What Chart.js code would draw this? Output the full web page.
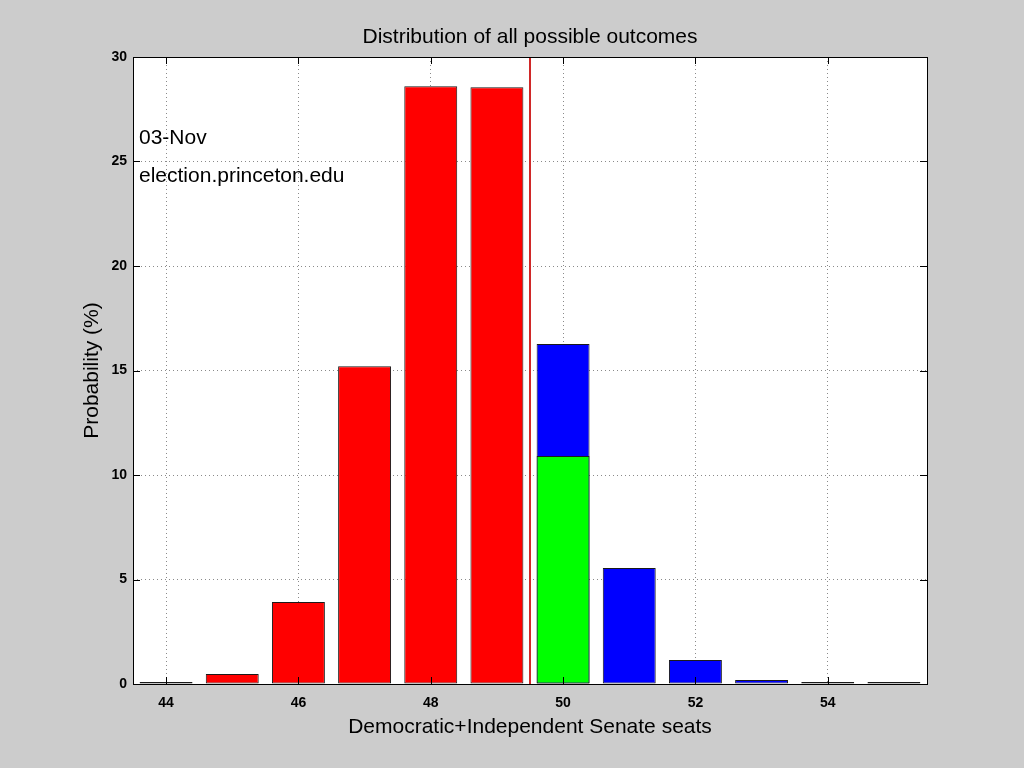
<!DOCTYPE html>
<html>
<head>
<meta charset="utf-8">
<script src="https://cdn.jsdelivr.net/npm/chart.js@4/dist/chart.umd.min.js"></script>
<style>
  html, body { margin: 0; padding: 0; background: #cccccc; }
  canvas { display: block; }
</style>
</head>
<body>
<canvas id="c" width="1024" height="768"></canvas>
<script>
// ---- data ----
const seats = [44, 45, 46, 47, 48, 49, 50, 51, 52, 53, 54, 55];
const probability = [0.05, 0.48, 3.92, 15.2, 28.6, 28.55, 16.27, 5.55, 1.15, 0.19, 0.03, 0.02];
const greenSeats = [50];
const greenProbability = [10.91];
const cutoffSeat = 49.5;
const xTickValues = [44, 46, 48, 50, 52, 54];
const yTickValues = [0, 5, 10, 15, 20, 25, 30];
const chartTitle = 'Distribution of all possible outcomes';
const dateLabel = '03-Nov';
const siteLabel = 'election.princeton.edu';

const RED = '#ff0000', BLUE = '#0000ff', GREEN = '#00ff00';
const FONT = '"Liberation Sans", Arial, Helvetica, sans-serif';

const frame = {
  id: 'frame',
  beforeDraw(chart) {
    const {ctx, chartArea: a} = chart;
    ctx.save();
    ctx.fillStyle = '#ffffff';
    ctx.fillRect(a.left, a.top, a.right - a.left, a.bottom - a.top);
    ctx.restore();
  },
  afterDatasetsDraw(chart) {
    const {ctx, chartArea: a, scales: {x, y}} = chart;
    ctx.save();
    ctx.strokeStyle = '#000000';
    ctx.lineWidth = 1;
    ctx.strokeRect(Math.round(a.left) + 0.5, Math.round(a.top) + 0.5,
                   Math.round(a.right - a.left), Math.round(a.bottom - a.top));
    const tl = 7;
    ctx.beginPath();
    xTickValues.forEach(v => {
      const px = Math.round(x.getPixelForValue(v)) + 0.5;
      ctx.moveTo(px, a.bottom); ctx.lineTo(px, a.bottom - tl);
      ctx.moveTo(px, a.top); ctx.lineTo(px, a.top + tl);
    });
    yTickValues.forEach(v => {
      const py = Math.round(y.getPixelForValue(v)) + 0.5;
      ctx.moveTo(a.left, py); ctx.lineTo(a.left + tl, py);
      ctx.moveTo(a.right, py); ctx.lineTo(a.right - tl, py);
    });
    ctx.stroke();
    ctx.fillStyle = '#000000';
    ctx.font = '21px ' + FONT;
    ctx.textBaseline = 'middle';
    ctx.textAlign = 'center';
    ctx.fillText(chartTitle, (a.left + a.right) / 2, 37);
    ctx.textAlign = 'left';
    ctx.fillText(dateLabel, a.left + 6, 138);
    ctx.fillText(siteLabel, a.left + 6, 176);
    ctx.restore();
  }
};

const barStyle = {
  borderColor: '#1a1a1a',
  borderWidth: 1,
  borderSkipped: false,
  grouped: false,
  barPercentage: 1,
  categoryPercentage: 0.8,
  minBarLength: 2
};

new Chart(document.getElementById('c'), {
  data: {
    datasets: [
      Object.assign({
        type: 'bar',
        data: greenSeats.map((s, i) => ({x: s, y: greenProbability[i]})),
        backgroundColor: GREEN
      }, barStyle),
      Object.assign({
        type: 'bar',
        data: seats.map((s, i) => ({x: s, y: probability[i]})),
        backgroundColor: seats.map(s => s < cutoffSeat ? RED : BLUE)
      }, barStyle),
      {
        type: 'line',
        data: [{x: cutoffSeat, y: yTickValues[0]}, {x: cutoffSeat, y: yTickValues[yTickValues.length - 1]}],
        borderColor: '#d02828',
        borderWidth: 2,
        pointRadius: 0,
        fill: false
      }
    ]
  },
  options: {
    responsive: false,
    animation: false,
    layout: { padding: { left: 0, right: 97, top: 57, bottom: 0 } },
    plugins: {
      legend: { display: false },
      tooltip: { enabled: false },
      title: { display: false }
    },
    scales: {
      x: {
        type: 'linear',
        min: 43.5,
        max: 55.5,
        offset: false,
        afterBuildTicks(scale) { scale.ticks = xTickValues.map(v => ({value: v})); },
        afterFit(scale) { scale.height = 84; },
        ticks: {
          color: '#000000',
          font: { family: FONT, size: 14, weight: 'bold' },
          padding: 11,
          maxRotation: 0,
          autoSkip: false
        },
        grid: { color: '#8a8a8a', lineWidth: 1, drawTicks: false, offset: false },
        border: { display: false, dash: [1, 3] },
        title: {
          display: true,
          text: 'Democratic+Independent Senate seats',
          color: '#000000',
          font: { family: FONT, size: 21, weight: 'normal', lineHeight: 1.2 },
          padding: { top: 0, bottom: 28 }
        }
      },
      y: {
        type: 'linear',
        min: 0,
        max: 30,
        afterBuildTicks(scale) { scale.ticks = yTickValues.map(v => ({value: v})); },
        afterFit(scale) { scale.width = 133; },
        ticks: {
          color: '#000000',
          font: { family: FONT, size: 14, weight: 'bold' },
          padding: 6
        },
        grid: { color: '#8a8a8a', lineWidth: 1, drawTicks: false },
        border: { display: false, dash: [1, 3] },
        title: {
          display: true,
          text: 'Probability (%)',
          color: '#000000',
          font: { family: FONT, size: 21, weight: 'normal', lineHeight: 1.2 },
          padding: { top: 80, bottom: 0 }
        }
      }
    }
  },
  plugins: [frame]
});
</script>
</body>
</html>
